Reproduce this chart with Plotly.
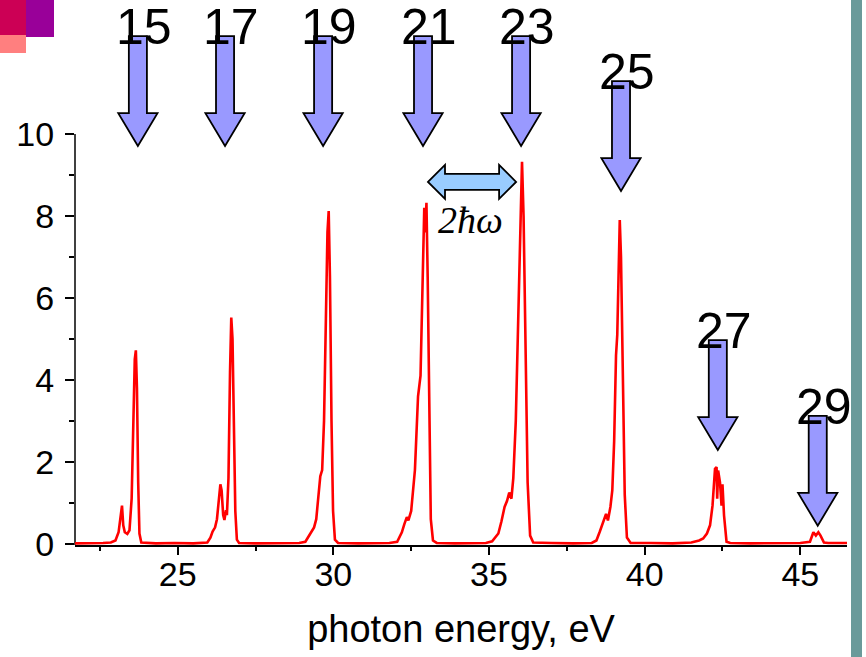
import plotly.graph_objects as go

# High-harmonic spectrum: photon energy (eV) and signal (arb. units)
energy_ev = [
    21.70, 22.20, 22.60, 22.85, 23.00, 23.10, 23.17, 23.21, 23.25, 23.30,
    23.38, 23.45, 23.52, 23.57, 23.62, 23.655, 23.69, 23.73, 23.77, 23.83,
    24.30, 24.90, 25.50, 25.95,
    26.05, 26.12, 26.20, 26.26, 26.32, 26.37, 26.41, 26.46, 26.50, 26.55,
    26.58, 26.63, 26.68, 26.72, 26.76, 26.80, 26.85, 26.90, 26.97,
    27.50, 28.20, 28.90,
    29.10, 29.20, 29.30, 29.38, 29.45, 29.52, 29.58, 29.64, 29.70, 29.76,
    29.81, 29.85, 29.89, 29.94, 29.99, 30.05, 30.15,
    30.80, 31.40, 31.80,
    32.05, 32.20, 32.28, 32.36, 32.41, 32.50, 32.62, 32.72, 32.80, 32.87,
    32.92, 32.95, 32.99, 33.03, 33.08, 33.13, 33.20, 33.32,
    33.90, 34.50, 34.90,
    35.10, 35.30, 35.40, 35.50, 35.58, 35.65, 35.72, 35.78, 35.86, 35.94,
    36.00, 36.06, 36.11, 36.17, 36.24, 36.32, 36.42,
    37.00, 37.70, 38.30,
    38.45, 38.56, 38.68, 38.76, 38.82, 38.90, 38.96, 39.02, 39.08, 39.12,
    39.16, 39.20, 39.24, 39.30, 39.36, 39.43, 39.55,
    40.20, 40.90, 41.50,
    41.62, 41.75, 41.88, 42.00, 42.10, 42.18, 42.26, 42.31, 42.33, 42.36,
    42.42, 42.47, 42.50, 42.55, 42.63, 42.75,
    43.40, 44.20, 45.00,
    45.31, 45.42, 45.50, 45.58, 45.65, 45.76, 45.90, 46.50,
]
intensity = [
    0.01, 0.01, 0.02, 0.03, 0.08, 0.28, 0.65, 0.93, 0.45, 0.28,
    0.24, 0.33, 1.10, 3.00, 4.50, 4.72, 3.80, 1.50, 0.25, 0.03,
    0.01, 0.02, 0.01, 0.03,
    0.15, 0.30, 0.40, 0.60, 1.00, 1.45, 1.30, 0.70, 0.58, 0.82,
    0.70, 1.60, 4.20, 5.52, 5.00, 3.00, 0.80, 0.10, 0.02,
    0.01, 0.02, 0.02,
    0.05, 0.18, 0.30, 0.40, 0.60, 1.10, 1.65, 1.80, 3.00, 5.50,
    7.60, 8.12, 6.50, 3.00, 0.80, 0.10, 0.02,
    0.01, 0.02, 0.02,
    0.05, 0.28, 0.48, 0.65, 0.57, 0.80, 1.80, 3.60, 4.10, 6.50,
    8.20, 7.60, 8.32, 6.50, 3.00, 0.60, 0.08, 0.02,
    0.01, 0.02, 0.02,
    0.06, 0.25, 0.55, 0.90, 1.05, 1.25, 1.10, 1.60, 3.00, 5.50,
    8.00, 9.32, 8.00, 4.50, 1.50, 0.20, 0.03,
    0.02, 0.01, 0.02,
    0.08, 0.30, 0.55, 0.73, 0.57, 0.90, 1.30, 2.50, 4.60, 5.10,
    6.50, 7.90, 7.00, 4.00, 1.20, 0.15, 0.02,
    0.02, 0.01, 0.03,
    0.05, 0.08, 0.13, 0.25, 0.45, 0.93, 1.83, 1.87, 1.10, 1.79,
    1.50, 0.93, 1.45, 0.69, 0.05, 0.02,
    0.01, 0.02, 0.02,
    0.05, 0.28, 0.20, 0.28, 0.20, 0.03, 0.02, 0.02,
]
assert len(energy_ev) == len(intensity)

# Harmonic orders and where their marker arrows point (eV, signal)
orders = [15, 17, 19, 21, 23, 25, 27, 29]
arrow_x = [23.72, 26.52, 29.67, 32.88, 36.03, 39.24, 42.35, 45.56]
arrow_tip = [9.71, 9.71, 9.71, 9.71, 9.71, 8.61, 2.29, 0.44]

# Two-photon spacing marker between harmonics 21 and 23
spacing_ends = [33.04, 35.87]
spacing_level = 8.83
spacing_label = "<i>2ħω</i>"
spacing_label_pos = (34.42, 7.90)

x_range = [21.7, 46.5]
y_range = [-0.03, 13.27]
y_ticks = [0, 2, 4, 6, 8, 10]
y_minor = [1, 3, 5, 7, 9]
x_ticks = [25, 30, 35, 40, 45]

W, H = 866, 657
M_L, M_R, M_T, M_B = 75, 19, 0, 112

# arrow geometry (axis units)
SHAFT_HALF = 0.29
HEAD_HALF = 0.63
HEAD_LEN = 0.80
ARROW_LEN = 2.68

ARROW_FILL = "#9999FF"
SPACING_FILL = "#99CCFF"
SANS = "Arial, Liberation Sans, sans-serif"

fig = go.Figure()
fig.add_trace(go.Scatter(
    x=energy_ev, y=intensity, mode="lines",
    line=dict(color="#FF0000", width=2.6),
    hoverinfo="skip", showlegend=False,
))

shapes = []
annotations = []


def down_arrow(x, tip):
    top = tip + ARROW_LEN
    base = tip + HEAD_LEN
    return (f"M {x - SHAFT_HALF},{top} L {x + SHAFT_HALF},{top} "
            f"L {x + SHAFT_HALF},{base} L {x + HEAD_HALF},{base} "
            f"L {x},{tip} L {x - HEAD_HALF},{base} "
            f"L {x - SHAFT_HALF},{base} Z")


for n, x, tip in zip(orders, arrow_x, arrow_tip):
    shapes.append(dict(type="path", xref="x", yref="y", path=down_arrow(x, tip),
                       fillcolor=ARROW_FILL, line=dict(color="black", width=1.8),
                       layer="above"))
    annotations.append(dict(x=x, y=tip + ARROW_LEN, xref="x", yref="y",
                            text=str(n), showarrow=False, xanchor="center",
                            yanchor="bottom", xshift=6, yshift=-21,
                            font=dict(family=SANS, size=50, color="black")))

# double-headed spacing arrow
x0, x1 = spacing_ends
hh, sh, hl = 0.415, 0.195, 0.546
yc = spacing_level
shapes.append(dict(
    type="path", xref="x", yref="y",
    path=(f"M {x0},{yc} L {x0 + hl},{yc + hh} L {x0 + hl},{yc + sh} "
          f"L {x1 - hl},{yc + sh} L {x1 - hl},{yc + hh} L {x1},{yc} "
          f"L {x1 - hl},{yc - hh} L {x1 - hl},{yc - sh} L {x0 + hl},{yc - sh} "
          f"L {x0 + hl},{yc - hh} Z"),
    fillcolor=SPACING_FILL, line=dict(color="black", width=1.8), layer="above"))
annotations.append(dict(x=spacing_label_pos[0], y=spacing_label_pos[1], xref="x", yref="y",
                        text=spacing_label, showarrow=False,
                        font=dict(family="Times New Roman, Liberation Serif, serif",
                                  size=38, color="black")))

# vertical axis line stops at the top tick
shapes.append(dict(type="line", xref="paper", yref="y", x0=0, x1=0,
                   y0=y_range[0], y1=y_ticks[-1],
                   line=dict(color="black", width=1.5), layer="below"))


def px_x(px):
    return (px - M_L) / (W - M_L - M_R)


def px_y(py):
    return (H - M_B - py) / (H - M_B - M_T)


# slide decorations: corner blocks and right edge bar
for (a, b, c, d, col) in [(0, 0, 26, 35, "#CC0055"), (26, 0, 54, 37, "#990099"),
                          (0, 35, 26, 53, "#FF7F7F"), (851, 0, 862, H, "#6A9A9A")]:
    shapes.append(dict(type="rect", xref="paper", yref="paper",
                       x0=px_x(a), x1=px_x(c), y0=px_y(d), y1=px_y(b),
                       fillcolor=col, line=dict(width=0), layer="above"))

fig.update_layout(
    width=W, height=H,
    margin=dict(l=M_L, r=M_R, t=M_T, b=M_B, autoexpand=False),
    paper_bgcolor="white", plot_bgcolor="white",
    shapes=shapes, annotations=annotations,
    xaxis=dict(
        range=x_range, tickmode="array", tickvals=x_ticks,
        ticks="outside", ticklen=8, tickwidth=1.5, tickcolor="black",
        minor=dict(ticks="outside", dtick=2.5, tick0=0, ticklen=4,
                   tickwidth=1.5, tickcolor="black"),
        showline=True, linecolor="black", linewidth=1.5,
        showgrid=False, zeroline=False, layer="below traces",
        ticklabelstandoff=-10,
        tickfont=dict(family=SANS, size=34, color="black"),
        title=dict(text="photon energy, eV", standoff=24,
                   font=dict(family=SANS, size=38, color="black")),
        automargin=False,
    ),
    yaxis=dict(
        range=y_range, tickmode="array", tickvals=y_ticks,
        ticks="outside", ticklen=9, tickwidth=1.5, tickcolor="black",
        minor=dict(ticks="outside", tickmode="array", tickvals=y_minor,
                   ticklen=5, tickwidth=1.5, tickcolor="black"),
        showline=False, showgrid=False, zeroline=False,
        ticklabelstandoff=4,
        tickfont=dict(family=SANS, size=34, color="black"),
        automargin=False,
    ),
)

fig.write_html("out.html")
